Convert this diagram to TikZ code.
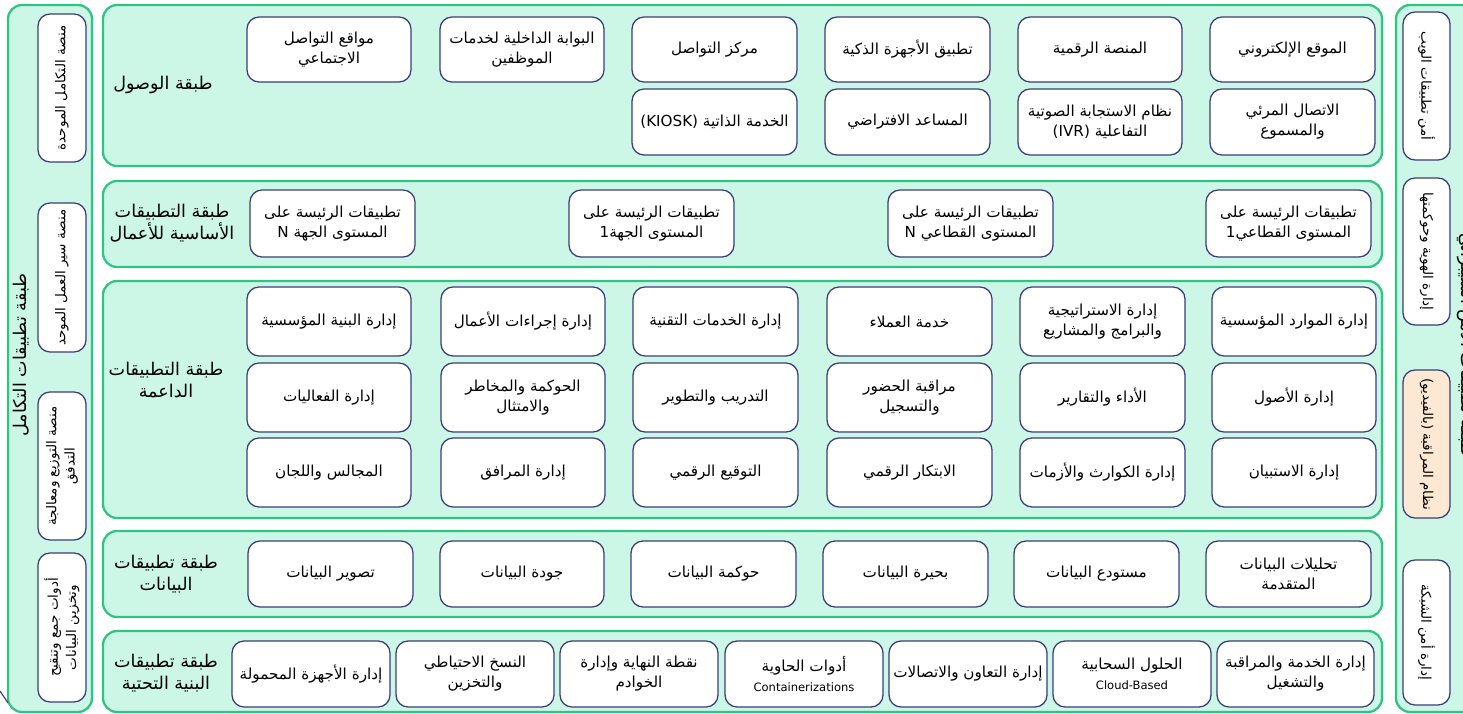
\documentclass[tikz,border=0pt]{standalone}
\usepackage{fontspec}
\setmainfont{DejaVu Sans}
\newfontfamily\arabicfont[Script=Arabic]{DejaVu Sans}
\TeXXeTstate=1
\newcommand{\artxt}[1]{{\arabicfont\beginR #1\endR}}
\newcommand{\lattxt}[1]{{\fontsize{8.2}{11}\selectfont #1}}
\definecolor{laymint}{HTML}{CCF6E5}
\definecolor{laygreen}{HTML}{2FC384}
\definecolor{boxnavy}{HTML}{3A3D78}
\definecolor{boxpeach}{HTML}{FDE8D4}

\begin{document}
\begin{tikzpicture}[x=0.25mm, y=-0.25mm,
  layer/.style={draw=laygreen, fill=laymint, line width=1.6pt, rounded corners=3.5mm},
  item/.style={draw=boxnavy, fill=white, line width=0.9pt, rounded corners=3mm},
  peach/.style={item, fill=boxpeach},
  every node/.style={align=center, font=\fontsize{10.8}{14.2}\selectfont},
  side/.style={font=\fontsize{9.6}{13}\selectfont},
  head/.style={font=\fontsize{12.5}{16}\selectfont}]
  \useasboundingbox (0,0) rectangle (1463,714);
  \clip (0,0) rectangle (1463,714);

  % integration column (left)
  \draw[layer] (8,5) rectangle (92,712);
  \node[head, rotate=90] (intlabel) at (21,355) {\artxt{طبقة تطبيقات التكامل}};
  \draw[item] (38,14) rectangle (86,162) node[midway, side, rotate=90] (int1) {\artxt{منصة التكامل الموحدة}};
  \draw[item] (38,203) rectangle (86,352) node[midway, side, rotate=90] (int2) {\artxt{منصة سير العمل الموحد}};
  \draw[item] (38,392) rectangle (86,540) node[midway, side, rotate=90] (int3) {\artxt{منصة التوزيع ومعالجة}\\\artxt{التدفق}};
  \draw[item] (38,553) rectangle (86,702) node[midway, side, rotate=90] (int4) {\artxt{أدوات جمع وتنقيح}\\\artxt{وتخزين البيانات}};
  \draw[boxnavy, line width=0.8pt] (0,691) -- (8,703);

  % security column (right)
  \draw[layer] (1396,5) rectangle (1490,712);
  \node[head, rotate=-90] (seclabel) at (1468,345) {\artxt{طبقة تطبيقات الأمن السيبراني}};
  \draw[item] (1403,12) rectangle (1450,160) node[midway, side, rotate=-90] (sec1) {\artxt{أمن تطبيقات الويب}};
  \draw[item] (1403,178) rectangle (1450,325) node[midway, side, rotate=-90] (sec2) {\artxt{إدارة الهوية وحوكمتها}};
  \draw[peach] (1403,370) rectangle (1450,518) node[midway, side, rotate=-90] (sec3) {\artxt{نظام المراقبة (بالفيديو)}};
  \draw[item] (1403,560) rectangle (1450,705) node[midway, side, rotate=-90] (sec4) {\artxt{إدارة أمن الشبكة}};

  % access layer
  \draw[layer] (103,5) rectangle (1382,166);
  \node[head] (acclabel) at (163,85) {\artxt{طبقة الوصول}};
  \draw[item] (1210,17) rectangle (1375,82) node[midway] (acc1) {\artxt{الموقع الإلكتروني}};
  \draw[item] (1018,17) rectangle (1182,82) node[midway] (acc2) {\artxt{المنصة الرقمية}};
  \draw[item] (825,17) rectangle (990,82) node[midway] (acc3) {\artxt{تطبيق الأجهزة الذكية}};
  \draw[item] (632,17) rectangle (797,82) node[midway] (acc4) {\artxt{مركز التواصل}};
  \draw[item] (440,17) rectangle (604,82) node[midway] (acc5) {\artxt{البوابة الداخلية لخدمات}\\\artxt{الموظفين}};
  \draw[item] (247,17) rectangle (411,82) node[midway] (acc6) {\artxt{مواقع التواصل}\\\artxt{الاجتماعي}};
  \draw[item] (1210,89) rectangle (1375,155) node[midway] (acc7) {\artxt{الاتصال المرئي}\\\artxt{والمسموع}};
  \draw[item] (1018,89) rectangle (1182,155) node[midway] (acc8) {\artxt{نظام الاستجابة الصوتية}\\\artxt{التفاعلية (IVR)}};
  \draw[item] (825,89) rectangle (990,155) node[midway] (acc9) {\artxt{المساعد الافتراضي}};
  \draw[item] (632,89) rectangle (797,155) node[midway] (acc10) {\artxt{الخدمة الذاتية (KIOSK)}};

  % core business layer
  \draw[layer] (103,181) rectangle (1382,267);
  \node[head] (corelabel) at (172,223) {\artxt{طبقة التطبيقات}\\\artxt{الأساسية للأعمال}};
  \draw[item] (1206,190) rectangle (1371,257) node[midway] (core1) {\artxt{تطبيقات الرئيسة على}\\\artxt{المستوى القطاعي1}};
  \draw[item] (888,190) rectangle (1053,257) node[midway] (core2) {\artxt{تطبيقات الرئيسة على}\\\artxt{المستوى القطاعي N}};
  \draw[item] (569,190) rectangle (734,257) node[midway] (core3) {\artxt{تطبيقات الرئيسة على}\\\artxt{المستوى الجهة1}};
  \draw[item] (250,190) rectangle (415,257) node[midway] (core4) {\artxt{تطبيقات الرئيسة على}\\\artxt{المستوى الجهة N}};

  % supporting layer
  \draw[layer] (103,281) rectangle (1382,518);
  \node[head] (suplabel) at (166,380) {\artxt{طبقة التطبيقات}\\\artxt{الداعمة}};
  \draw[item] (1212,287) rectangle (1376,356) node[midway] (sup1) {\artxt{إدارة الموارد المؤسسية}};
  \draw[item] (1020,287) rectangle (1185,356) node[midway] (sup2) {\artxt{إدارة الاستراتيجية}\\\artxt{والبرامج والمشاريع}};
  \draw[item] (827,287) rectangle (992,356) node[midway] (sup3) {\artxt{خدمة العملاء}};
  \draw[item] (633,287) rectangle (798,356) node[midway] (sup4) {\artxt{إدارة الخدمات التقنية}};
  \draw[item] (441,287) rectangle (605,356) node[midway] (sup5) {\artxt{إدارة إجراءات الأعمال}};
  \draw[item] (247,287) rectangle (411,356) node[midway] (sup6) {\artxt{إدارة البنية المؤسسية}};
  \draw[item] (1212,363) rectangle (1376,432) node[midway] (sup7) {\artxt{إدارة الأصول}};
  \draw[item] (1020,363) rectangle (1185,432) node[midway] (sup8) {\artxt{الأداء والتقارير}};
  \draw[item] (827,363) rectangle (992,432) node[midway] (sup9) {\artxt{مراقبة الحضور}\\\artxt{والتسجيل}};
  \draw[item] (633,363) rectangle (798,432) node[midway] (sup10) {\artxt{التدريب والتطوير}};
  \draw[item] (441,363) rectangle (605,432) node[midway] (sup11) {\artxt{الحوكمة والمخاطر}\\\artxt{والامتثال}};
  \draw[item] (247,363) rectangle (411,432) node[midway] (sup12) {\artxt{إدارة الفعاليات}};
  \draw[item] (1212,438) rectangle (1376,507) node[midway] (sup13) {\artxt{إدارة الاستبيان}};
  \draw[item] (1020,438) rectangle (1185,507) node[midway] (sup14) {\artxt{إدارة الكوارث والأزمات}};
  \draw[item] (827,438) rectangle (992,507) node[midway] (sup15) {\artxt{الابتكار الرقمي}};
  \draw[item] (633,438) rectangle (798,507) node[midway] (sup16) {\artxt{التوقيع الرقمي}};
  \draw[item] (441,438) rectangle (605,507) node[midway] (sup17) {\artxt{إدارة المرافق}};
  \draw[item] (247,438) rectangle (411,507) node[midway] (sup18) {\artxt{المجالس واللجان}};

  % data layer
  \draw[layer] (103,531) rectangle (1382,617);
  \node[head] (datalabel) at (166,574) {\artxt{طبقة تطبيقات}\\\artxt{البيانات}};
  \draw[item] (1206,541) rectangle (1371,607) node[midway] (data1) {\artxt{تحليلات البيانات}\\\artxt{المتقدمة}};
  \draw[item] (1014,541) rectangle (1179,607) node[midway] (data2) {\artxt{مستودع البيانات}};
  \draw[item] (823,541) rectangle (988,607) node[midway] (data3) {\artxt{بحيرة البيانات}};
  \draw[item] (631,541) rectangle (796,607) node[midway] (data4) {\artxt{حوكمة البيانات}};
  \draw[item] (440,541) rectangle (604,607) node[midway] (data5) {\artxt{جودة البيانات}};
  \draw[item] (248,541) rectangle (413,607) node[midway] (data6) {\artxt{تصوير البيانات}};

  % infrastructure layer
  \draw[layer] (103,631) rectangle (1382,712);
  \node[head] (infralabel) at (166,673) {\artxt{طبقة تطبيقات}\\\artxt{البنية التحتية}};
  \draw[item] (1217,641) rectangle (1374,707) node[midway] (infra1) {\artxt{إدارة الخدمة والمراقبة}\\\artxt{والتشغيل}};
  \draw[item] (1053,641) rectangle (1211,707) node[midway] (infra2) {\artxt{الحلول السحابية}\\\lattxt{Cloud-Based}};
  \draw[item] (889,641) rectangle (1047,707) node[midway] (infra3) {\artxt{إدارة التعاون والاتصالات}};
  \draw[item] (725,641) rectangle (883,707) node[midway] (infra4) {\artxt{أدوات الحاوية}\\\lattxt{Containerizations}};
  \draw[item] (560,641) rectangle (718,707) node[midway] (infra5) {\artxt{نقطة النهاية وإدارة}\\\artxt{الخوادم}};
  \draw[item] (396,641) rectangle (554,707) node[midway] (infra6) {\artxt{النسخ الاحتياطي}\\\artxt{والتخزين}};
  \draw[item] (232,641) rectangle (390,707) node[midway] (infra7) {\artxt{إدارة الأجهزة المحمولة}};
\end{tikzpicture}
\end{document}
